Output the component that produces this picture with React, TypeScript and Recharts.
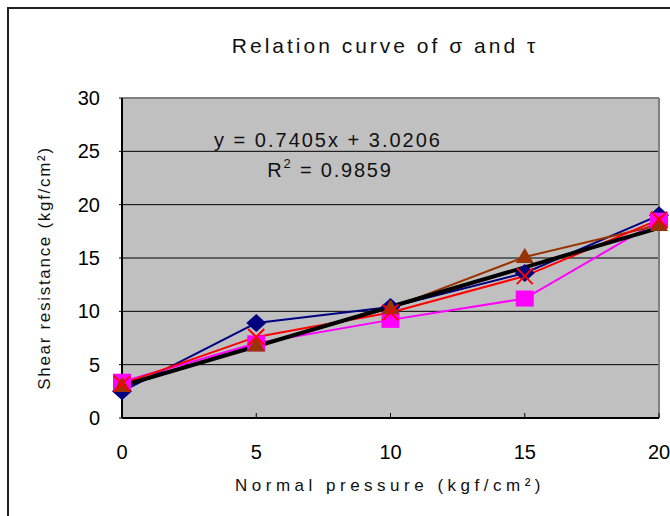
import { CartesianGrid, Line, LineChart, ReferenceLine, XAxis, YAxis } from "recharts";

const sigma = [0, 5, 10, 15, 20];
const test1 = [2.5, 8.9, 10.4, 13.6, 19.0];
const test2 = [3.4, 7.0, 9.2, 11.2, 18.5];
const test3 = [3.0, 6.8, 10.3, 15.1, 18.1];
const test4 = [3.2, 7.6, 9.9, 13.3, 18.6];
const trend = [3.02, null, null, null, 17.83];
const xTicks = [0, 5, 10, 15, 20];
const yTicks = [0, 5, 10, 15, 20, 25, 30];

const data = sigma.map((s, i) => ({
  sigma: s,
  t1: test1[i],
  t2: test2[i],
  t3: test3[i],
  t4: test4[i],
  trend: trend[i],
}));

const FONT = "'Liberation Sans', Arial, sans-serif";

function diamond(p: any) {
  if (p.cx == null || p.cy == null) return <g key={p.key} />;
  const { cx, cy } = p;
  return <path key={p.key} d={`M${cx},${cy - 9}L${cx + 10},${cy}L${cx},${cy + 9}L${cx - 10},${cy}Z`} fill="#000080" />;
}
function square(p: any) {
  if (p.cx == null || p.cy == null) return <g key={p.key} />;
  return <rect key={p.key} x={p.cx - 9} y={p.cy - 8} width={18} height={16} fill="#FF00FF" />;
}
function triangle(p: any) {
  if (p.cx == null || p.cy == null) return <g key={p.key} />;
  const { cx, cy } = p;
  return <path key={p.key} d={`M${cx},${cy - 9}L${cx + 9},${cy + 6}L${cx - 9},${cy + 6}Z`} fill="#993300" />;
}
function cross(p: any) {
  if (p.cx == null || p.cy == null) return <g key={p.key} />;
  const { cx, cy } = p;
  return (
    <path key={p.key} d={`M${cx - 8},${cy - 8}L${cx + 8},${cy + 8}M${cx + 8},${cy - 8}L${cx - 8},${cy + 8}`} stroke="#FF0000" strokeWidth={2} fill="none" />
  );
}

export default function App() {
  return (
    <div style={{ position: "absolute", left: 0, top: 0, width: 670, height: 516, overflow: "hidden", background: "#fff", fontFamily: FONT }}>
      <div style={{ position: "absolute", left: 7, top: 7, width: 800, height: 800, borderLeft: "2px solid #222", borderTop: "2px solid #222" }} />
      <LineChart
        width={720}
        height={516}
        data={data}
        margin={{ top: 98, left: 62, right: 61, bottom: 58 }}
        style={{ position: "absolute", left: 0, top: 0 }}
      >
        <CartesianGrid vertical={false} stroke="#000" strokeWidth={1} fill="#C0C0C0" fillOpacity={1} />
        <XAxis
          type="number"
          dataKey="sigma"
          domain={[0, 20]}
          ticks={xTicks}
          height={40}
          axisLine={{ stroke: "#000", strokeWidth: 2 }}
          tickLine={{ stroke: "#000", strokeWidth: 1 }}
          tickSize={-5}
          tickMargin={32}
          tick={{ fontSize: 20, fill: "#000", fontFamily: FONT }}
        />
        <YAxis
          type="number"
          domain={[0, 30]}
          ticks={yTicks}
          width={60}
          axisLine={{ stroke: "#000", strokeWidth: 2 }}
          tickLine={{ stroke: "#000", strokeWidth: 1 }}
          tickSize={3}
          tickMargin={19}
          tick={{ fontSize: 20, fill: "#000", fontFamily: FONT }}
        />
        <ReferenceLine y={30} stroke="#808080" strokeWidth={2} />
        <ReferenceLine x={20} stroke="#808080" strokeWidth={2} />
        <Line dataKey="t1" stroke="#000080" strokeWidth={2} dot={diamond} isAnimationActive={false} />
        <Line dataKey="t2" stroke="#FF00FF" strokeWidth={2} dot={square} isAnimationActive={false} />
        <Line dataKey="t3" stroke="#993300" strokeWidth={2} dot={triangle} isAnimationActive={false} />
        <Line dataKey="t4" stroke="#FF0000" strokeWidth={2} dot={cross} isAnimationActive={false} />
        <Line dataKey="trend" stroke="#000" strokeWidth={4} dot={false} connectNulls isAnimationActive={false} />
      </LineChart>
      <div style={{ position: "absolute", left: 385, top: 34, transform: "translateX(-50%)", whiteSpace: "nowrap", fontSize: 21, letterSpacing: 3, color: "#111" }}>
        Relation curve of σ and τ
      </div>
      <div style={{ position: "absolute", left: 328, top: 129, transform: "translateX(-50%)", whiteSpace: "nowrap", fontSize: 20, letterSpacing: 2, color: "#111" }}>
        y = 0.7405x + 3.0206
      </div>
      <div style={{ position: "absolute", left: 330, top: 159, transform: "translateX(-50%)", whiteSpace: "nowrap", fontSize: 20, letterSpacing: 1.8, color: "#111" }}>
        R<sup style={{ fontSize: 13, verticalAlign: 0, position: "relative", top: -9 }}>2</sup> = 0.9859
      </div>
      <div style={{ position: "absolute", left: 390, top: 476, transform: "translateX(-50%)", whiteSpace: "nowrap", fontSize: 17, letterSpacing: 4.5, color: "#111" }}>
        Normal pressure (kgf/cm²)
      </div>
      <div style={{ position: "absolute", left: 45, top: 268, transform: "translate(-50%, -50%) rotate(-90deg)", whiteSpace: "nowrap", fontSize: 17, letterSpacing: 1.7, color: "#111" }}>
        Shear resistance (kgf/cm²)
      </div>
    </div>
  );
}
